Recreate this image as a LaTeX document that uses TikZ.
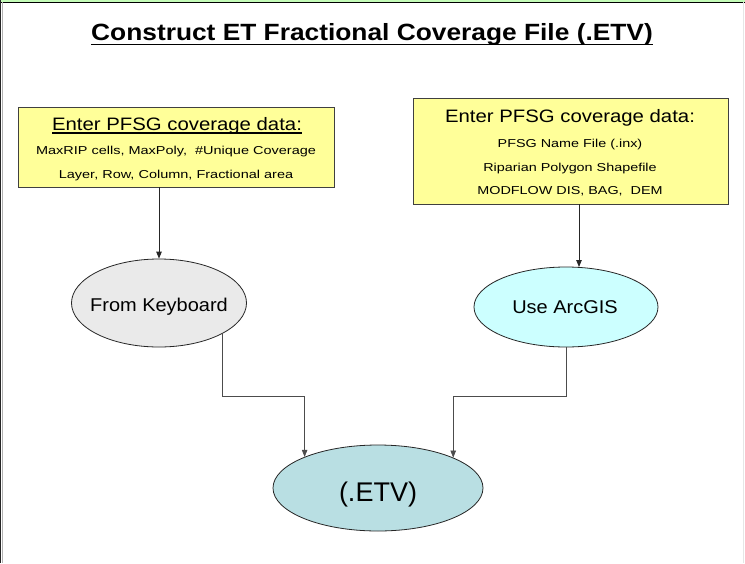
\documentclass[tikz,border=0pt]{standalone}
\usepackage{fontspec}
\setmainfont{Liberation Sans}
\usepackage{graphicx}
\usetikzlibrary{arrows.meta,shapes.geometric,calc}

\definecolor{boxfill}{HTML}{FFFF99}
\definecolor{kbfill}{HTML}{EAEAEA}
\definecolor{gisfill}{HTML}{CCFFFF}
\definecolor{etvfill}{HTML}{B9DFE3}
\definecolor{framegreen}{HTML}{C4FCB8}
\definecolor{edgegray}{HTML}{E6E6E6}

% horizontal stretch of a piece of text
\newcommand\hstretch[2]{\scalebox{#1}[1]{#2}}
\newcommand\fs[1]{\fontsize{#1}{#1}\selectfont}

\begin{document}
\begin{tikzpicture}[x=1pt,y=-1pt,
  databox/.style={rectangle, draw=black!75, line width=0.9pt, fill=boxfill, inner sep=0pt},
  oval/.style={ellipse, draw=black!85, line width=0.8pt, inner sep=0pt},
  txt/.style={anchor=base, inner sep=0pt, outer sep=0pt},
  feed/.style={-{Triangle[length=7pt,width=5.5pt]}, line width=0.9pt, draw=black!85},
  merge/.style={-{Triangle[length=7pt,width=5.5pt]}, line width=0.6pt, draw=black!70},
]
\useasboundingbox (0,0) rectangle (745,563);
\fill[white] (0,0) rectangle (745,563);

% page frame
\fill[framegreen] (0,0) rectangle (745,1.8);
\draw[line width=1.2pt, black] (0,2.4) -- (745,2.4);
\draw[line width=1.2pt, black!85] (0.8,0) -- (0.8,563);
\draw[line width=1pt, black!30] (2.4,2.4) -- (2.4,563);
\draw[line width=1pt, edgegray] (743.5,2.4) -- (743.5,563);

% title
\node[txt] (title) at (372,40) {\fs{23.5}\bfseries\hstretch{1.12}{Construct ET Fractional Coverage File (.ETV)}};
\draw[line width=1.8pt] ($(title.base west)+(0,4.5)$) -- ($(title.base east)+(0,4.5)$);

% input boxes
\node[databox, minimum width=316pt, minimum height=80pt] (lbox) at (176,147) {};
\node[databox, minimum width=315pt, minimum height=106pt] (rbox) at (570.5,151) {};

% left box text
\node[txt] (lhead) at (177,130) {\fs{18}\hstretch{1.13}{Enter PFSG coverage data:}};
\draw[line width=1.1pt] ($(lhead.base west)+(0,3)$) -- ($(lhead.base east)+(0,3)$);
\node[txt] (lline1) at (176,154) {\fs{11.5}\hstretch{1.26}{MaxRIP cells, MaxPoly,\ \ \#Unique Coverage}};
\node[txt] (lline2) at (176,178) {\fs{11.5}\hstretch{1.26}{Layer, Row, Column, Fractional area}};

% right box text
\node[txt] (rhead) at (570,122) {\fs{18}\hstretch{1.13}{Enter PFSG coverage data:}};
\node[txt] (rline1) at (570,147) {\fs{11.5}\hstretch{1.25}{PFSG Name File (.inx)}};
\node[txt] (rline2) at (570,171) {\fs{11.5}\hstretch{1.25}{Riparian Polygon Shapefile}};
\node[txt] (rline3) at (570,194) {\fs{11.5}\hstretch{1.25}{MODFLOW DIS, BAG,\ \ DEM}};

% ellipses
\node[oval, fill=kbfill, minimum width=175pt, minimum height=88pt] (kb) at (159,303) {};
\node[oval, fill=gisfill, minimum width=184pt, minimum height=80pt] (gis) at (566,307) {};
\node[oval, fill=etvfill, minimum width=210pt, minimum height=86pt] (etv) at (378,488) {};

\node[txt] (kbtxt) at (159,311.5) {\fs{18.5}\hstretch{1.08}{From Keyboard}};
\node[txt] (gistxt) at (565,313) {\fs{18.5}\hstretch{1.08}{Use ArcGIS}};
\node[txt] (etvtxt) at (378,501) {\fs{27}(.ETV)};

% connectors
\draw[feed] (lbox.south -| kb.north) -- (kb.north);
\coordinate (gistop) at ($(gis.north)+(13,0.4)$);
\draw[feed] (rbox.south -| gistop) -- (gistop);

\coordinate (joinrow) at (0,396);
\draw[merge] (kb.-26.6) -- (kb.-26.6 |- joinrow) -| (etv.157.4);
\draw[merge] (gis.south) -- (gis.south |- joinrow) -| (etv.22.9);
\end{tikzpicture}
\end{document}
